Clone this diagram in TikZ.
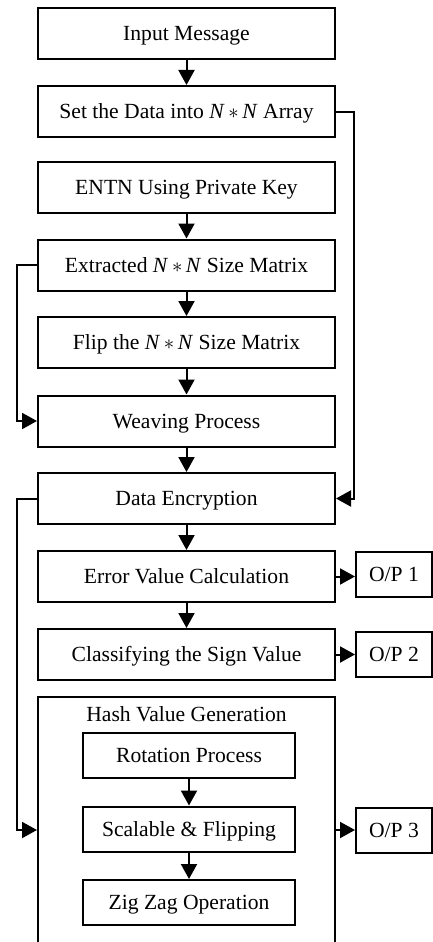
\documentclass[tikz,border=0pt]{standalone}
\usepackage{fontspec}
\setmainfont{Liberation Serif}
\usetikzlibrary{arrows.meta}

\begin{document}
\begin{tikzpicture}[x=1pt, y=-1pt, line width=2pt,
    every node/.style={text height=14.4pt, text depth=0pt},
    box/.style={draw, minimum width=297pt, minimum height=51pt, inner sep=0pt},
    subbox/.style={draw, minimum width=212pt, minimum height=45pt, inner sep=0pt},
    opbox/.style={draw, minimum width=76pt, minimum height=45pt, inner sep=0pt},
    arr/.style={-{Triangle[length=15pt,width=16pt]}}]
    \fontsize{21.6}{26}\selectfont

    \def\midX{186.5}
    \def\loopR{354}
    \def\loopL{17}

    \useasboundingbox (0,0) rectangle (433,942);

    % Main column of boxes
    \foreach \name/\y/\txt in {
        msg/33.5/{Input Message},
        setarr/111.5/{Set the Data into \textit{N}\,$*$\,\textit{N} Array},
        entn/187.5/{ENTN Using Private Key},
        extr/265/{Extracted \textit{N}\,$*$\,\textit{N} Size Matrix},
        flip/342.5/{Flip the \textit{N}\,$*$\,\textit{N} Size Matrix},
        weave/421/{Weaving Process},
        enc/498.5/{Data Encryption},
        err/576.5/{Error Value Calculation},
        sign/654.5/{Classifying the Sign Value}}
        \node[box] (\name) at (\midX,\y) {\txt};

    % Hash block (runs off the bottom edge)
    \node[draw, minimum width=297pt, minimum height=263pt, inner sep=0pt] (hash) at (\midX,828.5) {};
    \node[inner sep=0pt] (hashT) at (\midX,714) {Hash Value Generation};
    \node[subbox] (rot) at (189,755.5) {Rotation Process};
    \node[subbox] (scal) at (189,829) {Scalable \& Flipping};
    \node[subbox] (zig) at (189,902.5) {Zig Zag Operation};

    % Outputs
    \node[opbox] (op1) at (394,574.5) {O/P 1};
    \node[opbox] (op2) at (394,654) {O/P 2};
    \node[opbox] (op3) at (394,830) {O/P 3};

    % Straight arrows
    \draw[arr] (msg) -- (setarr);
    \draw[arr] (entn) -- (extr);
    \draw[arr] (extr) -- (flip);
    \draw[arr] (flip) -- (weave);
    \draw[arr] (weave) -- (enc);
    \draw[arr] (enc) -- (err);
    \draw[arr] (err) -- (sign);
    \draw[arr] (rot) -- (scal);
    \draw[arr] (scal) -- (zig);

    % Loop arrows
    \draw[arr] (setarr.east) -- (\loopR,111.5) |- (enc.east);
    \draw[arr] (extr.west) -- (\loopL,265) |- (weave.west);
    \draw[arr] (enc.west) -- (\loopL,498.5) |- (hash.west |- op3.west);

    % Output arrows
    \draw[arr] (err.east) -- (op1.west |- err.east);
    \draw[arr] (sign.east) -- (op2.west |- sign.east);
    \draw[arr] (hash.east |- op3.west) -- (op3.west);

\end{tikzpicture}
\end{document}
